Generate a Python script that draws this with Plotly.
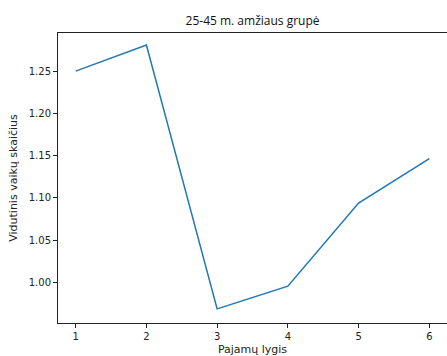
import plotly.graph_objects as go

income_levels = [1, 2, 3, 4, 5, 6]
avg_children = [1.251, 1.282, 0.968, 0.995, 1.094, 1.147]
y_ticks = [1.00, 1.05, 1.10, 1.15, 1.20, 1.25]
y_tick_labels = ["1.00", "1.05", "1.10", "1.15", "1.20", "1.25"]

fig = go.Figure()
fig.add_trace(go.Scatter(x=income_levels, y=avg_children, mode="lines",
                         line=dict(color="#1f77b4", width=1.5)))

font_tick = dict(family="DejaVu Sans", size=10, color="#222")
fig.update_layout(
    width=447, height=356,
    margin=dict(l=58, r=0, t=33, b=33),
    plot_bgcolor="white", paper_bgcolor="white",
    showlegend=False,
    title=dict(text="25-45 m. amžiaus grupė", x=0.565, xanchor="center",
               y=1 - 21/356, yanchor="middle",
               font=dict(family="Open Sans", size=12, color="#111")),
    xaxis=dict(range=[0.75, 6.25], tickvals=income_levels,
               ticktext=[str(v) for v in income_levels],
               showgrid=False, zeroline=False, showline=True, linecolor="#222",
               linewidth=1, mirror=True, ticks="outside", ticklen=4,
               tickcolor="#222", tickfont=font_tick,
               title=dict(text="Pajamų lygis", standoff=6,
                          font=dict(family="DejaVu Sans", size=11, color="#222"))),
    yaxis=dict(range=[0.9512, 1.2964], tickvals=y_ticks, ticktext=y_tick_labels,
               showgrid=False, zeroline=False, showline=True, linecolor="#222",
               linewidth=1, ticks="outside", ticklen=4, tickcolor="#222",
               tickfont=font_tick,
               title=dict(text="Vidutinis vaikų skaičius", standoff=8,
                          font=dict(family="DejaVu Sans", size=11, color="#222"))),
)

fig.write_html("out.html")
